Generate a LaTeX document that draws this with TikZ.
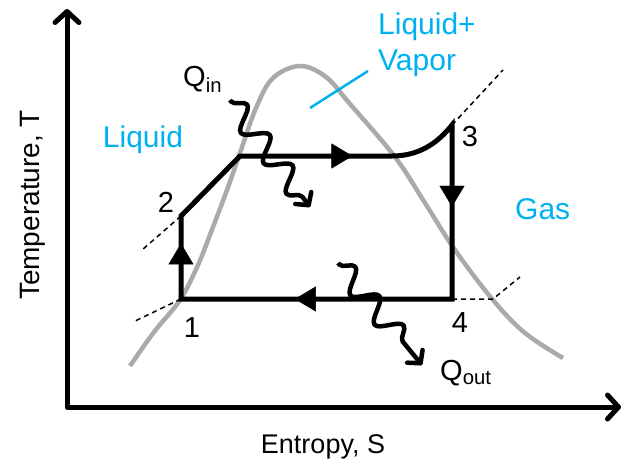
\documentclass[tikz,border=0pt]{standalone}
\usepackage{fontspec}
\setmainfont{Liberation Sans}
\usetikzlibrary{arrows.meta,decorations.markings,decorations.pathmorphing}
\definecolor{fasecyan}{RGB}{0,176,240}
\definecolor{cupola}{RGB}{170,170,170}
\tikzset{
  assi/.style={line width=5pt, line join=round,
    {Straight Barb[length=11pt,width=24pt,line cap=round,line join=round]}-{Straight Barb[length=11pt,width=24pt,line cap=round,line join=round]}},
  ciclo/.style={line width=5pt, line join=miter},
  verso/.style={postaction={decorate}, decoration={markings,
    mark=at position #1 with {\arrow{Triangle[length=21pt,width=25pt]}}}},
  calore/.style={line width=4.5pt, line join=round,
    -{Straight Barb[length=9pt,width=20pt,line cap=round,line join=round]},
    decorate, decoration={snake, amplitude=11pt, segment length=38pt, pre length=2pt, post length=12pt}},
  tratto/.style={line width=1.5pt, dash pattern=on 5pt off 4pt},
  num/.style={font=\fontsize{29}{34}\selectfont, inner sep=0pt},
  fase/.style={text=fasecyan, font=\fontsize{30}{36}\selectfont, inner sep=0pt}
}
\begin{document}
\begin{tikzpicture}[x=1pt, y=-1pt]
  \useasboundingbox (0,0) rectangle (625,461);

  % assi
  \coordinate (origine) at (67,407);
  \coordinate (tmax) at (67,9);
  \coordinate (smax) at (621,407);
  \draw[assi] (tmax) -- (origine) -- (smax);
  \node[font=\fontsize{28}{34}\selectfont, rotate=90, inner sep=0pt] (tlab) at (33,205) {Temperature, T};
  \node[font=\fontsize{27}{34}\selectfont, anchor=base, inner sep=0pt] (slab) at (323,453) {Entropy, S};

  % curva di saturazione
  \draw[cupola, line width=4.5pt] plot[smooth, tension=0.6] coordinates {
    (130,366) (154,332) (180,300) (198,265) (213,227) (227,190) (240,153)
    (256,108) (273,78) (300,66) (326,77) (350,104) (395,157)
    (425,203) (455,250) (493,300) (525,333) (563,358)};

  % stati del ciclo
  \coordinate (s1) at (181,299);
  \coordinate (s2) at (181,216);
  \coordinate (s2b) at (240,156);
  \coordinate (s3a) at (392,156);
  \coordinate (s3) at (452,125);
  \coordinate (s4) at (452,299);
  \coordinate (e1) at (133,322);
  \coordinate (e2) at (142,250);
  \coordinate (e3) at (503,70);
  \coordinate (e4) at (493,299);
  \coordinate (e4b) at (520,277);

  % linee tratteggiate
  \draw[tratto] (s1) -- (e1);
  \draw[tratto] (s2) -- (e2);
  \draw[tratto] (s3) -- (e3);
  \draw[tratto] (s4) -- (e4) -- (e4b);

  % ciclo
  \draw[ciclo] (s1) -- (s2) -- (s2b) -- (s3a)
    .. controls (422,156) and (440,140) .. (s3) -- (s4) -- cycle;
  \path[verso=0.67] (s1) -- (s2);
  \path[verso=0.74] (s2b) -- (s3a);
  \path[verso=0.47] (s3) -- (s4);
  \path[verso=0.58] (s4) -- (s1);

  \node[num] (n1) at (192,328) {1};
  \node[num] (n2) at (166,202) {2};
  \node[num] (n3) at (470,137) {3};
  \node[num] (n4) at (460,323) {4};

  % calore
  \node[num, anchor=base west] (qin) at (183,86) {Q\textsubscript{in}};
  \node[num, anchor=base west] (qout) at (440,380) {Q\textsubscript{out}};
  \coordinate (qina) at (230,100);
  \coordinate (qinb) at (310,207);
  \coordinate (qouta) at (338,263);
  \coordinate (qoutb) at (422,365);
  \draw[calore] (qina) -- (qinb);
  \draw[calore] (qouta) -- (qoutb);

  % etichette delle fasi
  \node[fase, anchor=base] (liq) at (143,147) {Liquid};
  \node[fase, anchor=base west] (gas) at (515,219) {Gas};
  \node[fase, anchor=north west, align=left] (mix) at (378,13) {Liquid+\\Vapor};
  \coordinate (mixp) at (310,108);
  \coordinate (mixq) at (368,71);
  \draw[fasecyan, line width=2.5pt] (mixp) -- (mixq);
\end{tikzpicture}
\end{document}
